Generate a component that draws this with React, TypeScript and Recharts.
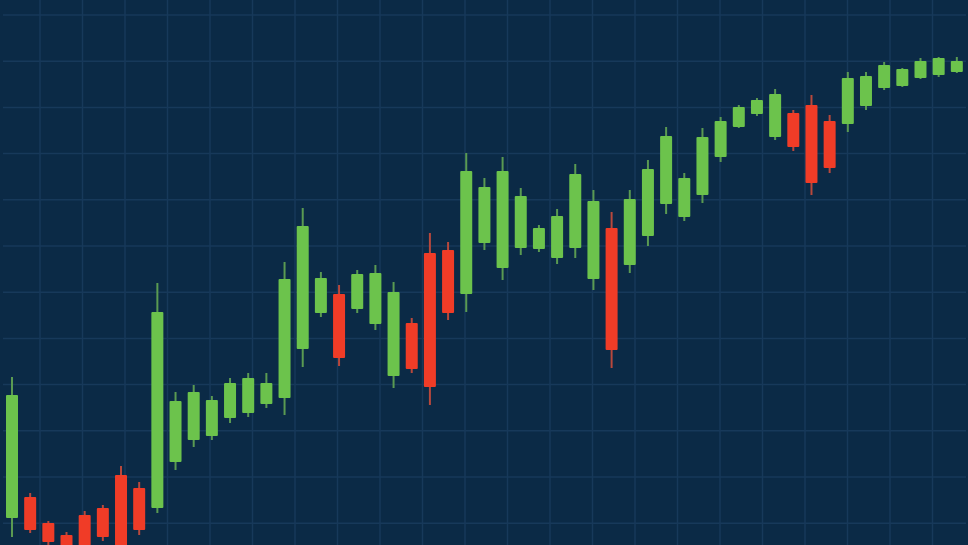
import React from "react";
import { ComposedChart, Bar, XAxis, YAxis, CartesianGrid } from "recharts";

// Candle values (arbitrary price units)
const opens = [27,48,22,10,30,37,70,57,37,83,105,109,127,132,141,147,196,232,251,236,221,169,222,292,295,251,302,277,297,296,287,297,266,317,280,309,341,328,350,388,418,431,408,432,440,424,421,439,457,459,467,470,473];
const highs = [168,52,24,13,34,40,79,63,262,153,160,149,167,172,172,283,337,273,260,275,280,263,227,312,303,392,367,388,357,320,336,381,355,333,355,385,418,372,417,428,440,447,456,435,450,430,473,473,483,477,487,488,488];
const lows = [8,12,-2,-13,-10,4,-15,10,32,75,98,105,122,128,137,130,178,228,179,232,215,157,172,140,225,233,295,265,290,293,281,287,255,177,272,299,331,324,342,383,417,429,405,394,350,372,413,435,455,458,466,468,472];
const closes = [150,15,3,-8,-5,8,-10,15,233,144,153,145,162,167,162,266,319,267,187,271,272,253,176,158,232,374,358,374,349,317,329,371,344,195,346,376,409,367,408,424,438,445,451,398,362,377,467,469,480,476,484,487,484];

const data = opens.map((o, i) => ({
  i,
  open: o,
  high: highs[i],
  low: lows[i],
  close: closes[i],
}));

const BG = "#0b2a46";
const GRID = "#17395a";
const UP = "#6cc34c";
const DOWN = "#f03c27";
const UP_WICK = "#5a9a52";
const DOWN_WICK = "#b8483c";

const W = 968;
const H = 545;

const hGrid = Array.from({ length: 12 }, (_, k) => 15 + 46.2 * k);
const vGrid = Array.from({ length: 23 }, (_, k) => 40 + 42.5 * k);

const Candle = (props: any) => {
  const { x, y, width, height, payload } = props;
  if (!payload) return null;
  const { open, close, high, low } = payload;
  const range = high - low;
  const ppu = range === 0 ? 0 : height / range;
  const yOf = (v: number) => y + (high - v) * ppu;
  const up = close >= open;
  const top = yOf(Math.max(open, close));
  const bot = yOf(Math.min(open, close));
  const cx = x + width / 2;
  return (
    <g>
      <line
        x1={cx}
        x2={cx}
        y1={y}
        y2={y + height}
        stroke={up ? UP_WICK : DOWN_WICK}
        strokeWidth={2}
      />
      <rect
        x={x}
        y={top}
        width={width}
        height={Math.max(bot - top, 1)}
        fill={up ? UP : DOWN}
        rx={1}
      />
    </g>
  );
};

export default function App() {
  return (
    <div
      style={{
        position: "fixed",
        left: 0,
        top: 0,
        width: W,
        height: H,
        background: BG,
        overflow: "hidden",
      }}
    >
      <ComposedChart
        width={W}
        height={H}
        data={data}
        margin={{ top: 0, right: 2, bottom: 0, left: 3 }}
      >
        <CartesianGrid
          stroke={GRID}
          strokeWidth={1.5}
          horizontalPoints={hGrid}
          verticalPoints={vGrid}
        />
        <XAxis dataKey="i" hide />
        <YAxis hide domain={[0, 545]} allowDataOverflow />
        <Bar
          dataKey={(d: any) => [d.low, d.high]}
          barSize={12}
          shape={<Candle />}
          isAnimationActive={false}
        />
      </ComposedChart>
    </div>
  );
}
